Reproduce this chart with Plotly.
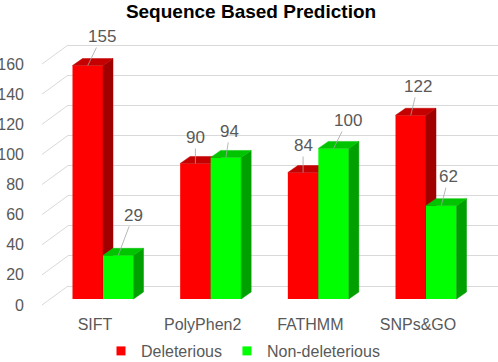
import plotly.graph_objects as go

# ---------------- data ----------------
categories = ["SIFT", "PolyPhen2", "FATHMM", "SNPs&GO"]
deleterious = [155, 90, 84, 122]
non_deleterious = [29, 94, 100, 62]
series_names = ["Deleterious", "Non-deleterious"]
y_ticks = [0, 20, 40, 60, 80, 100, 120, 140, 160]
title_text = "Sequence Based Prediction"

# ---------------- style / geometry (pixels) ----------------
W, H = 498, 362
plot_left, plot_right = 68, 498
plot_top, plot_bot = 30, 310
px_per_unit_y = 1.506
px_per_cat = 107.67
first_center_px = 103                # front-face centre of first group
front_zero_px = 299                  # bar front face baseline
back_zero_px = 286                   # back wall baseline
label_zero_px = 305                  # front-left edge (tick labels)
wall_front_x = 42
ylabel_standoff_px = 43
bar_w_px = 30.5
depth_dx_px, depth_dy_px = 10, 7
label_shift_px = 8

red_front, red_top, red_side = "#FF0000", "#C40000", "#A00000"
grn_front, grn_top, grn_side = "#00FF00", "#00C400", "#00A000"
text_col = "#595959"
grid_col = "#D9D9D9"
font_fam = "Liberation Sans, Arial, sans-serif"

red_lbl_off = [(14, -29), (0, -26), (0, -27), (7, -29)]
grn_lbl_off = [(15, -40), (4, -26), (14, -28), (7.5, -29)]

def yrange(zero_px):
    return [-(plot_bot - zero_px) / px_per_unit_y, (zero_px - plot_top) / px_per_unit_y]

x_range = [-(first_center_px - plot_left) / px_per_cat, (plot_right - first_center_px) / px_per_cat]
w = bar_w_px / px_per_cat
dxu = depth_dx_px / px_per_cat
dyu = depth_dy_px / px_per_unit_y
idx = list(range(len(categories)))

def faces(vals, left_off):
    sx, sy, tx, ty = [], [], [], []
    for i, v in zip(idx, vals):
        xl = i + left_off
        xr = xl + w
        sx += [xr, xr, xr + dxu, xr + dxu, xr, None]
        sy += [0, v, v + dyu, dyu, 0, None]
        tx += [xl, xr, xr + dxu, xl + dxu, xl, None]
        ty += [v, v, v + dyu, v + dyu, v, None]
    return sx, sy, tx, ty

fig = go.Figure()

# red series (subplot x / y)
fig.add_trace(go.Bar(x=idx, y=deleterious, width=w, offset=-w, marker=dict(color=red_front, line=dict(width=0)),
                     name=series_names[0], showlegend=False, xaxis="x", yaxis="y"))
sx, sy, tx, ty = faces(deleterious, -w)
fig.add_trace(go.Scatter(x=sx, y=sy, fill="toself", fillcolor=red_side, mode="lines",
                         line=dict(width=0.5, color=red_side), showlegend=False, hoverinfo="skip", xaxis="x", yaxis="y"))
fig.add_trace(go.Scatter(x=tx, y=ty, fill="toself", fillcolor=red_top, mode="lines",
                         line=dict(width=0.5, color=red_top), showlegend=False, hoverinfo="skip", xaxis="x", yaxis="y"))

# green series (subplot x2 / y2, drawn on top)
fig.add_trace(go.Bar(x=idx, y=non_deleterious, width=w, offset=0, marker=dict(color=grn_front, line=dict(width=0)),
                     name=series_names[1], showlegend=False, xaxis="x2", yaxis="y2"))
sx, sy, tx, ty = faces(non_deleterious, 0)
fig.add_trace(go.Scatter(x=sx, y=sy, fill="toself", fillcolor=grn_side, mode="lines",
                         line=dict(width=0.5, color=grn_side), showlegend=False, hoverinfo="skip", xaxis="x2", yaxis="y2"))
fig.add_trace(go.Scatter(x=tx, y=ty, fill="toself", fillcolor=grn_top, mode="lines",
                         line=dict(width=0.5, color=grn_top), showlegend=False, hoverinfo="skip", xaxis="x2", yaxis="y2"))

# helper traces for back wall grid and tick-label axis
fig.add_trace(go.Scatter(x=[None], y=[None], showlegend=False, hoverinfo="skip", xaxis="x", yaxis="y3"))
fig.add_trace(go.Scatter(x=[None], y=[None], showlegend=False, hoverinfo="skip", xaxis="x", yaxis="y4"))

# legend entries
for nm, col in zip(series_names, [red_front, grn_front]):
    fig.add_trace(go.Scatter(x=[None], y=[None], mode="markers", name=nm,
                             marker=dict(symbol="square", size=9, color=col), xaxis="x", yaxis="y"))

# data labels with leader lines
annotations = []
for i, v, (ax, ay) in zip(idx, deleterious, red_lbl_off):
    annotations.append(dict(x=i - w / 2, y=v, xref="x", yref="y", text=str(v), showarrow=True, arrowhead=0,
                            arrowwidth=0.8, arrowcolor="#A6A6A6", ax=ax, ay=ay, standoff=0,
                            font=dict(size=17, color=text_col, family=font_fam)))
for i, v, (ax, ay) in zip(idx, non_deleterious, grn_lbl_off):
    annotations.append(dict(x=i + w / 2, y=v, xref="x2", yref="y2", text=str(v), showarrow=True, arrowhead=0,
                            arrowwidth=0.8, arrowcolor="#A6A6A6", ax=ax, ay=ay, standoff=0,
                            font=dict(size=17, color=text_col, family=font_fam)))

# side-wall diagonal grid lines
depth_units = (label_zero_px - back_zero_px) / px_per_unit_y
shapes = []
for t in y_ticks:
    shapes.append(dict(type="line", xref="paper", yref="y4", x0=wall_front_x / W, x1=plot_left / W,
                       y0=t, y1=t + depth_units, line=dict(color=grid_col, width=1), layer="below"))

domain_x = [plot_left / W, plot_right / W]
domain_y = [1 - plot_bot / H, 1 - plot_top / H]
fig.update_layout(
    width=W, height=H,
    margin=dict(l=0, r=0, t=0, b=0, pad=0, autoexpand=False),
    paper_bgcolor="white", plot_bgcolor="rgba(0,0,0,0)",
    barmode="overlay",
    font=dict(family=font_fam, color=text_col, size=16),
    title=dict(text="<b>" + title_text + "</b>", x=251 / W, xanchor="center", y=1 - 11 / H, yanchor="middle",
               yref="container", pad=dict(t=0, b=0), font=dict(size=19, color="#000000", family=font_fam),
               automargin=False),
    xaxis=dict(domain=domain_x, range=x_range, tickvals=[i - label_shift_px / px_per_cat for i in idx],
               ticktext=categories, showgrid=False, zeroline=False, showline=False, ticks="", automargin=False,
               tickfont=dict(size=16, color=text_col), ticklabelstandoff=3),
    xaxis2=dict(domain=domain_x, range=x_range, overlaying="x", anchor="y2", visible=False, automargin=False),
    yaxis=dict(domain=domain_y, range=yrange(front_zero_px), visible=False, anchor="x", automargin=False),
    yaxis2=dict(domain=domain_y, range=yrange(front_zero_px), overlaying="y", anchor="x2", visible=False,
                automargin=False),
    yaxis3=dict(domain=domain_y, range=yrange(back_zero_px), overlaying="y", anchor="x", tickvals=y_ticks,
                showgrid=True, gridcolor=grid_col, gridwidth=1, showticklabels=False, zeroline=False,
                showline=False, ticks="", automargin=False),
    yaxis4=dict(domain=domain_y, range=yrange(label_zero_px), overlaying="y", anchor="x",
                ticklabelstandoff=ylabel_standoff_px, automargin=False,
                tickvals=y_ticks, showgrid=False, zeroline=False, showline=False, ticks="",
                tickfont=dict(size=16, color=text_col)),
    legend=dict(orientation="h", x=243 / W, xanchor="center", y=(H - 351) / H, yanchor="middle",
                font=dict(size=16, color=text_col), bgcolor="rgba(0,0,0,0)", itemwidth=30),
    annotations=annotations,
    shapes=shapes,
)

fig.write_html("out.html", config={"displayModeBar": False},
               post_script="document.body.style.margin='0';document.body.style.padding='0';")
